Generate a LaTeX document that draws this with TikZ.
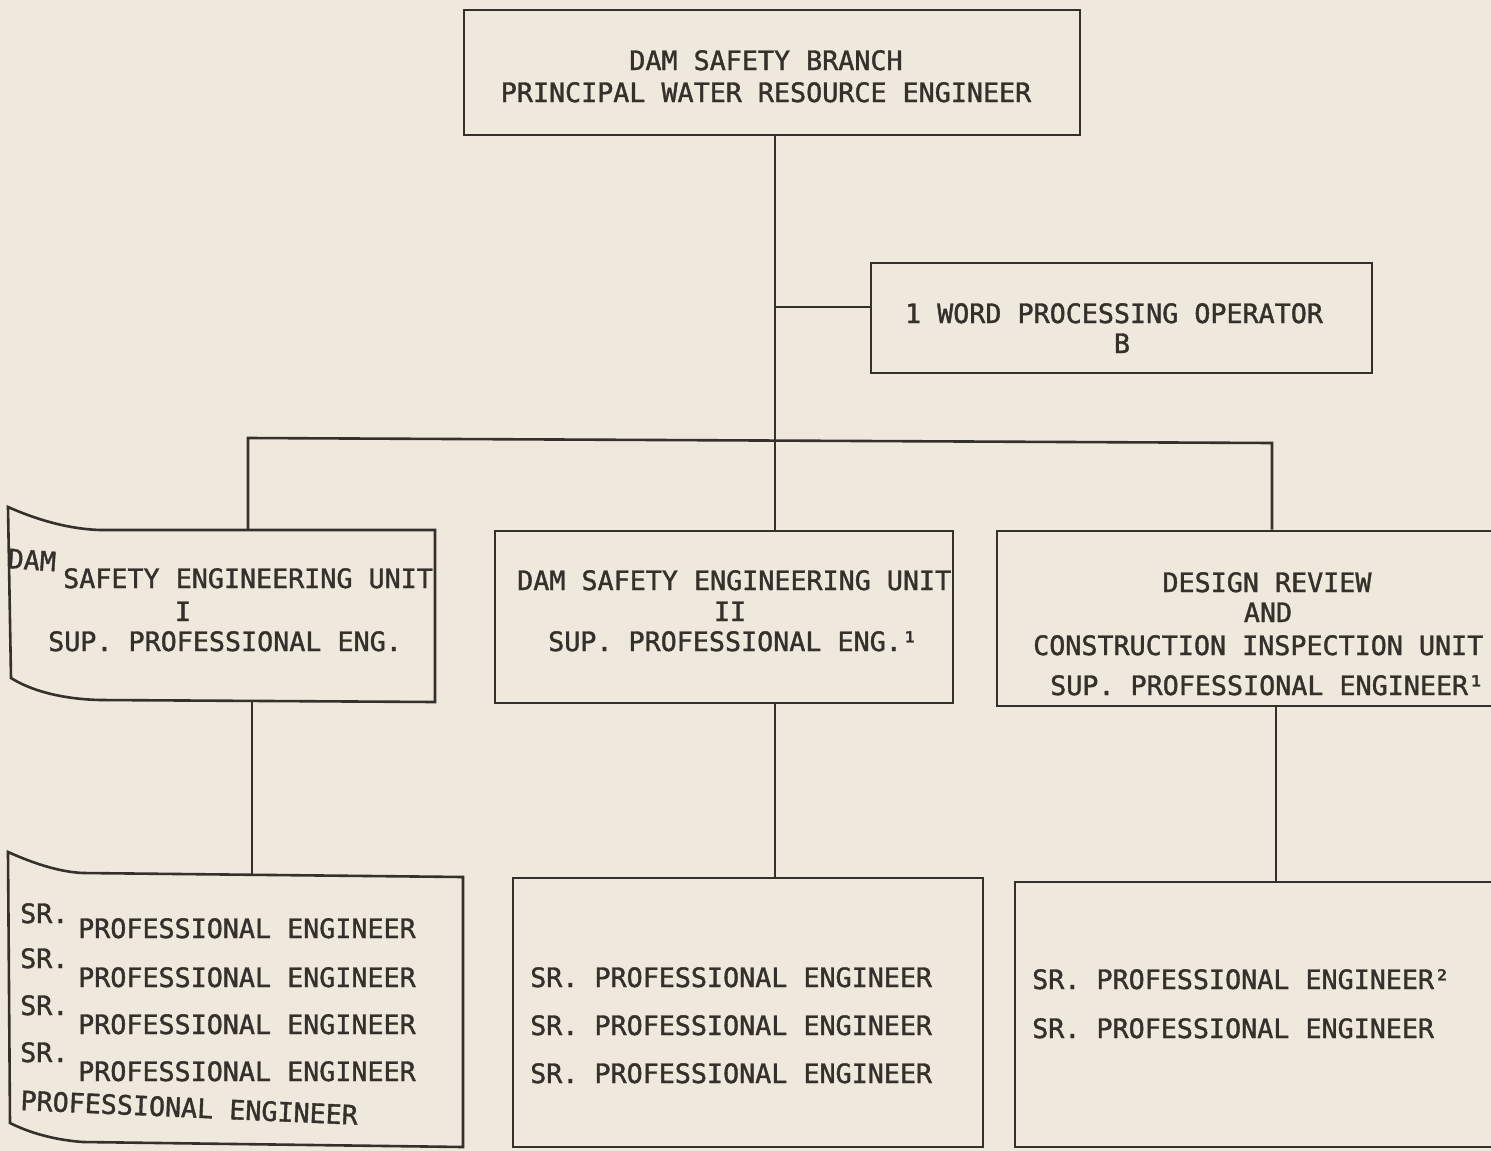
\documentclass[tikz,border=0pt]{standalone}
\usepackage{fontspec}
\newfontfamily\wfont[FakeBold=1.4]{DejaVu Sans Mono}
\definecolor{paper}{HTML}{EFE8DC}
\definecolor{ink}{HTML}{34302B}
\begin{document}
\begin{tikzpicture}[x=1pt,y=-1pt,
  boxs/.style={draw=ink,line width=2.6pt,inner sep=0pt,rectangle},
  lbl/.style={font=\wfont\fontsize{26.7}{30}\selectfont,text=ink,inner sep=0pt},
  conn/.style={draw=ink,line width=2.6pt}]
\fill[paper] (0,0) rectangle (1491,1151);
\useasboundingbox (0,0) rectangle (1491,1151);
\clip (0,0) rectangle (1491,1151);

% boxes
\node[boxs,minimum width=616pt,minimum height=125pt] (top) at (772,72.5) {};
\node[boxs,minimum width=501pt,minimum height=110pt] (wp) at (1121.5,318) {};
\node[boxs,minimum width=458pt,minimum height=172pt] (u2) at (724,617) {};
\node[boxs,minimum width=533pt,minimum height=175pt] (u3) at (1263.5,618.5) {};
\node[boxs,minimum width=470pt,minimum height=269pt] (b5) at (748,1012.5) {};
\node[boxs,minimum width=515pt,minimum height=265pt] (b6) at (1272.5,1014.5) {};

% warped boxes (scan curl)
\draw[conn,line join=miter] (8,507) .. controls (40,521) and (70,529) .. (100,530) -- (435,530) -- (435,702) -- (100,700) .. controls (60,699) and (30,690) .. (11,678) -- cycle;
\draw[conn,line join=miter] (8,852) .. controls (35,864) and (60,872) .. (83,873) -- (463,877) -- (463,1147) -- (83,1142) .. controls (55,1140) and (30,1133) .. (10,1123) -- cycle;

% junction coordinates
\coordinate (bL) at (248,438);
\coordinate (bM) at (775,440);
\coordinate (bR) at (1272,443);
\coordinate (wpj) at (775,307);
\coordinate (u1top) at (248,530);
\coordinate (u1bot) at (252,702);
\coordinate (b4top) at (252,875);
\coordinate (r2) at (1276,706);

% connectors
\draw[conn] (top.south -| bM) -- (bM);
\draw[conn] (wpj) -- (wpj -| wp.west);
\draw[conn,line join=miter] (u1top) -- (bL) -- (bR) -- (bR |- u3.north);
\draw[conn] (bM) -- (bM |- u2.north);
\draw[conn] (u1bot) -- (b4top);
\draw[conn] (u2.south -| bM) -- (b5.north -| bM);
\draw[conn] (r2) -- (r2 |- b6.north);

% texts
\node[lbl,anchor=base] (t1) at (766,70) {DAM SAFETY BRANCH};
\node[lbl,anchor=base] (t2) at (766,102) {PRINCIPAL WATER RESOURCE ENGINEER};
\node[lbl,anchor=base] (w1) at (1114,323) {1 WORD PROCESSING OPERATOR};
\node[lbl,anchor=base] (w2) at (1122,353) {B};

\node[lbl,anchor=base west,rotate=-4] (a0) at (7,568) {DAM};
\node[lbl,anchor=base west] (a1) at (63,588) {SAFETY ENGINEERING UNIT};
\node[lbl,anchor=base] (a2) at (183,621) {I};
\node[lbl,anchor=base west] (a3) at (48,651) {SUP. PROFESSIONAL ENG.};

\node[lbl,anchor=base west] (c1) at (517,590) {DAM SAFETY ENGINEERING UNIT};
\node[lbl,anchor=base] (c2) at (730,621) {II};
\node[lbl,anchor=base west] (c3) at (548,651) {SUP. PROFESSIONAL ENG.¹};

\node[lbl,anchor=base] (d1) at (1267,592) {DESIGN REVIEW};
\node[lbl,anchor=base] (d2) at (1268,622) {AND};
\node[lbl,anchor=base west] (d3) at (1033,655) {CONSTRUCTION INSPECTION UNIT};
\node[lbl,anchor=base west] (d4) at (1050,695) {SUP. PROFESSIONAL ENGINEER¹};

\node[lbl,anchor=base west] (e1s) at (20,923) {SR.};
\node[lbl,anchor=base west] (e1) at (78,938) {PROFESSIONAL ENGINEER};
\node[lbl,anchor=base west] (e2s) at (20,968) {SR.};
\node[lbl,anchor=base west] (e2) at (78,987) {PROFESSIONAL ENGINEER};
\node[lbl,anchor=base west] (e3s) at (20,1015) {SR.};
\node[lbl,anchor=base west] (e3) at (78,1034) {PROFESSIONAL ENGINEER};
\node[lbl,anchor=base west] (e4s) at (20,1062) {SR.};
\node[lbl,anchor=base west] (e4) at (78,1081) {PROFESSIONAL ENGINEER};
\node[lbl,anchor=base west,rotate=-2.5] (e5) at (20,1110) {PROFESSIONAL ENGINEER};

\node[lbl,anchor=base west] (f1) at (530,987) {SR. PROFESSIONAL ENGINEER};
\node[lbl,anchor=base west] (f2) at (530,1035) {SR. PROFESSIONAL ENGINEER};
\node[lbl,anchor=base west] (f3) at (530,1083) {SR. PROFESSIONAL ENGINEER};

\node[lbl,anchor=base west] (g1) at (1032,989) {SR. PROFESSIONAL ENGINEER²};
\node[lbl,anchor=base west] (g2) at (1032,1038) {SR. PROFESSIONAL ENGINEER};
\end{tikzpicture}
\end{document}
